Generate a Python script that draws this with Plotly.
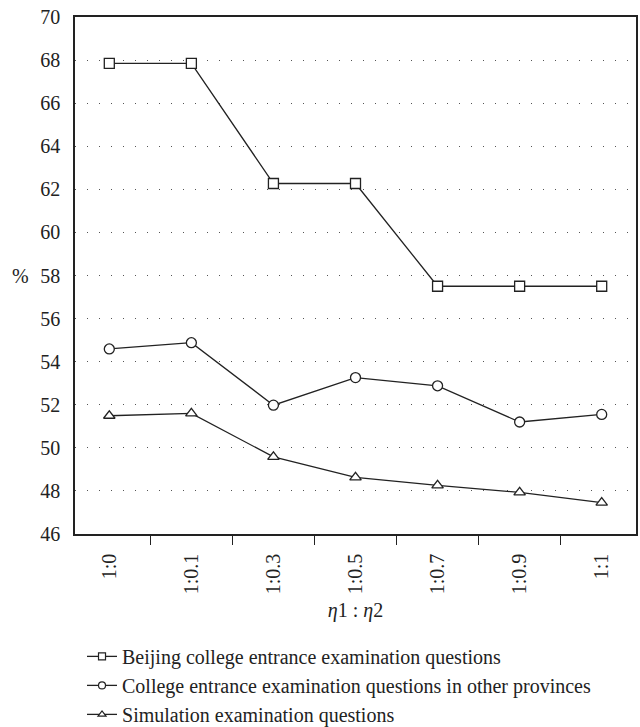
import plotly.graph_objects as go

# Weight ratio eta1:eta2 on the horizontal axis
ratios = ["1:0", "1:0.1", "1:0.3", "1:0.5", "1:0.7", "1:0.9", "1:1"]

# Accuracy (%) for each question set
beijing = [67.85, 67.85, 62.27, 62.27, 57.5, 57.5, 57.5]
other_provinces = [54.59, 54.88, 51.98, 53.26, 52.88, 51.2, 51.55]
simulation = [51.49, 51.6, 49.58, 48.63, 48.26, 47.93, 47.46]

series_names = [
    "Beijing college entrance examination questions",
    "College entrance examination questions in other provinces",
    "Simulation examination questions",
]

y_ticks = list(range(46, 71, 2))

FONT = "Liberation Serif, Times New Roman, serif"
INK = "#222222"

fig = go.Figure()
for name, values, symbol in zip(
    series_names,
    [beijing, other_provinces, simulation],
    ["square", "circle", "triangle-up"],
):
    # data line with full-size open markers
    fig.add_trace(
        go.Scatter(
            x=ratios,
            y=values,
            name=name,
            mode="lines+markers",
            showlegend=False,
            line=dict(color=INK, width=1.3),
            marker=dict(
                symbol=symbol,
                size=10,
                color="white",
                line=dict(color=INK, width=1.3),
            ),
        )
    )
    # legend key with a smaller marker
    fig.add_trace(
        go.Scatter(
            x=[None],
            y=[None],
            name=name,
            mode="lines+markers",
            line=dict(color=INK, width=1.3),
            marker=dict(
                symbol=symbol,
                size=7,
                color="white",
                line=dict(color=INK, width=1.2),
            ),
        )
    )

fig.update_layout(
    width=640,
    height=727,
    margin=dict(l=75, r=4, t=17, b=193, autoexpand=False),
    paper_bgcolor="white",
    plot_bgcolor="white",
    font=dict(family=FONT, size=20, color=INK),
    showlegend=True,
    legend=dict(
        x=0.0125,
        y=-0.199,
        xanchor="left",
        yanchor="top",
        orientation="v",
        font=dict(family=FONT, size=20, color=INK),
        tracegroupgap=0,
        itemwidth=30,
        bgcolor="rgba(0,0,0,0)",
    ),
    xaxis=dict(
        type="category",
        categoryorder="array",
        categoryarray=ratios,
        tickson="boundaries",
        ticks="outside",
        ticklen=9,
        tickwidth=1.2,
        tickcolor=INK,
        tickangle=-90,
        tickfont=dict(family=FONT, size=20, color=INK),
        showgrid=False,
        showline=True,
        linecolor=INK,
        linewidth=1.5,
        mirror=True,
        ticklabelstandoff=10,
        title=dict(
            text="<i>η</i>1 : <i>η</i>2",
            font=dict(family=FONT, size=20, color=INK),
            standoff=10,
        ),
    ),
    yaxis=dict(
        range=[46, 70],
        tickmode="array",
        tickvals=y_ticks,
        ticktext=[str(v) for v in y_ticks],
        tickfont=dict(family=FONT, size=20, color=INK),
        ticks="",
        showgrid=True,
        gridcolor="#555555",
        gridwidth=1,
        griddash="1px,11px",
        zeroline=False,
        showline=True,
        linecolor=INK,
        linewidth=1.5,
        mirror=True,
        ticklabelstandoff=9,
    ),
)

# Unit label placed to the left of the vertical axis
fig.add_annotation(
    text="%",
    xref="paper",
    yref="y",
    x=-0.098,
    y=58,
    xanchor="center",
    yanchor="middle",
    showarrow=False,
    font=dict(family=FONT, size=20, color=INK),
)

fig.write_html("out.html")
